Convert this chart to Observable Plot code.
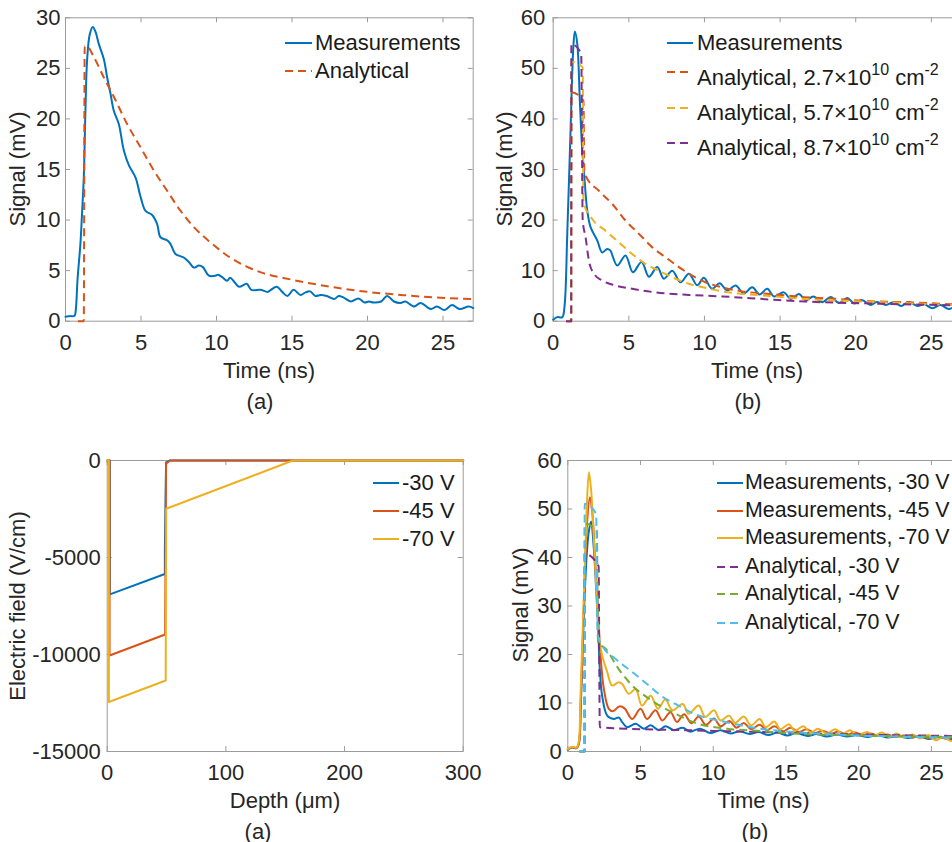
<!DOCTYPE html>
<html><head><meta charset="utf-8">
<script src="https://cdn.jsdelivr.net/npm/d3@7"></script>
<script src="https://cdn.jsdelivr.net/npm/@observablehq/plot@0.6"></script>
<style>
html,body{margin:0;padding:0;background:#fff;overflow:hidden}
#fig{position:relative;width:952px;height:842px;overflow:hidden;font-family:"Liberation Sans",Arial,Helvetica,sans-serif;color:#262626;background:#fff}
.lbl{position:absolute;font-size:22px;line-height:1;white-space:nowrap;transform:translate(-50%,-50%)}
.ylbl{transform:translate(-50%,-50%) rotate(-90deg)}
.leg{position:absolute;font-size:22px;line-height:1;white-space:nowrap;transform:translateY(-50%);color:#1a1a1a}
.leg.small{font-size:21.4px}
.leg sup{font-size:16px;vertical-align:baseline;position:relative;top:-10px;line-height:0}
</style></head><body><div id="fig"></div><script>
// ---------- colours ----------
const BLUE = "#0072BD", ORANGE = "#D95319", YELLOW = "#EDB120", PURPLE = "#7E2F8E", GREEN = "#77AC30", CYAN = "#4DBEEE";

// ---------- ticks ----------
const timeTicks = [0, 5, 10, 15, 20, 25];
const sig30Ticks = [0, 5, 10, 15, 20, 25, 30];
const sig60Ticks = [0, 10, 20, 30, 40, 50, 60];
const depthTicks = [0, 100, 200, 300];
const fieldTicks = [-15000, -10000, -5000, 0];

// ---------- panel 1 (top-left): [time ns, signal mV] ----------
const p1Measured = [[0,0.45],[0.3,0.5],[0.6,0.55],[0.68,1.1],[0.8,4.2],[0.99,7.7],[1.1,10.8],[1.21,14.2],[1.32,20.8],[1.43,25.8],[1.61,28.4],[1.81,29.1],[1.99,28.6],[2.21,27.4],[2.54,25.9],[2.76,24.1],[2.98,22.5],[3.2,20.8],[3.53,19.5],[3.86,16.9],[4.2,15.4],[4.64,14.2],[4.97,12.3],[5.3,10.9],[5.74,10.5],[6.07,9.6],[6.29,8.3],[6.73,8.0],[6.95,7.65],[7.28,6.65],[7.83,6.3],[8.17,5.85],[8.5,5.3],[8.83,5.5],[9.1,5.35],[9.49,4.5],[9.93,4.5],[10.1,4.6],[10.38,4.35],[10.7,4.0],[10.9,4.3],[11.2,3.85],[11.5,3.4],[12.0,3.7],[12.3,3.1],[12.9,3.1],[13.4,2.9],[13.6,3.1],[14.0,3.4],[14.35,2.9],[14.7,2.5],[15.1,3.1],[15.56,2.6],[15.9,2.85],[16.2,2.95],[16.55,2.5],[16.9,2.6],[17.3,2.5],[17.8,2.2],[18.1,2.5],[18.4,2.35],[18.9,1.95],[19.4,2.25],[19.8,1.85],[20.1,1.95],[20.4,1.85],[20.9,1.95],[21.3,2.5],[21.75,1.95],[22.2,1.8],[22.5,1.95],[23.1,1.45],[23.5,1.8],[24.2,1.2],[24.6,1.45],[25.1,1.1],[25.6,1.6],[26.1,1.2],[26.7,1.45],[27,1.3]];
const p1Analytical = [[0.82,0],[1.21,0],[1.27,27.2],[1.4,27.2],[1.88,26.1],[2.54,24.1],[3.2,22.2],[4.08,19.5],[4.97,17.2],[5.85,14.9],[6.73,12.9],[7.6,10.95],[8.5,9.3],[9.6,7.8],[10.7,6.5],[12.0,5.4],[13.0,4.8],[15.0,4.1],[17.8,3.35],[20.0,2.9],[22.2,2.6],[24.4,2.35],[27,2.2]];

// ---------- panel 2 (top-right) ----------
const p2Measured = [[0,0.3],[0.26,0.8],[0.6,0.8],[0.75,3],[0.93,17.3],[1.14,37],[1.32,53.5],[1.43,57.3],[1.59,54.9],[1.76,43.6],[1.92,33.8],[2.03,29.8],[2.25,21.9],[2.47,18.6],[2.91,16.0],[3.24,13.6],[3.57,14.3],[3.77,14.0],[4.23,11.0],[4.78,13.0],[5.27,9.7],[5.84,11.7],[6.33,8.8],[6.88,10.7],[7.32,8.4],[7.87,10.0],[8.42,7.7],[8.97,9.4],[9.52,7.1],[9.96,8.6],[10.5,6.4],[11.0,7.5],[11.5,6.1],[12.06,7.06],[12.6,5.5],[13.16,6.7],[13.64,5.3],[14.15,6.4],[14.6,4.9],[15.25,5.7],[15.7,4.4],[16.25,5.4],[16.7,4.1],[17.2,4.9],[17.8,3.75],[18.34,4.8],[18.9,3.6],[19.44,4.6],[19.9,3.5],[20.4,4.2],[20.99,3.2],[21.4,3.8],[22.0,3.2],[22.53,3.8],[23.0,3.0],[23.5,3.8],[24.1,3.0],[24.5,3.4],[25.07,2.56],[25.6,3.2],[26.15,2.4],[26.6,2.9],[27,2.5]];
const p2Analytical27 = [[0.85,0],[1.19,0],[1.2,45.3],[2.0,43.6],[2.06,29.6],[2.14,28.8],[3.02,25.8],[3.9,23.2],[4.78,19.9],[5.66,17.3],[6.55,14.6],[7.43,12.65],[8.31,10.7],[9.19,9.0],[10.07,7.7],[11.18,6.7],[12.5,5.9],[14.3,5.4],[16.6,4.75],[18.8,4.4],[21,3.95],[23.2,3.76],[27,3.25]];
const p2Analytical57 = [[0.85,0],[1.19,0],[1.2,51.3],[1.95,50.2],[2.0,23.5],[2.58,20.2],[3.46,17.9],[4.34,15.6],[5.22,13.3],[6.1,11.35],[6.98,10.0],[7.87,8.7],[8.97,7.4],[10.07,6.6],[11.18,5.9],[12.5,5.4],[14.3,5.0],[16.6,4.4],[18.8,4.1],[21,3.85],[23.2,3.6],[27,3.1]];
const p2Analytical87 = [[0.85,0],[1.19,0],[1.2,54.8],[1.85,53.0],[1.95,20],[2.14,16.6],[2.36,12.0],[2.69,9.4],[3.24,8.05],[4.12,7.06],[5.22,6.4],[6.77,5.7],[8.97,5.2],[11.18,4.9],[14.3,4.3],[16.6,3.9],[18.8,3.65],[21,3.5],[23.2,3.35],[27,3.1]];

// ---------- panel 3 (bottom-left): [depth um, field V/cm] ----------
const field30 = [[0,0],[2.2,0],[2.2,-6900],[48.6,-5850],[48.6,-4550],[49.6,-100],[53,0],[300,0]];
const field45 = [[0,0],[2.0,0],[2.0,-10050],[48.8,-8970],[49.6,-170],[53,0],[300,0]];
const field70 = [[0,0],[1.4,0],[1.4,-12450],[49.3,-11340],[49.7,-2490],[156.5,0],[300,0]];

// ---------- panel 4 (bottom-right) ----------
const meas30 = [[0,0.4],[0.3,0.8],[0.6,0.7],[0.75,1.5],[0.9,10],[1.1,28],[1.3,40.5],[1.45,45.5],[1.6,47.4],[1.79,41.8],[1.95,33.5],[2.09,25.3],[2.2,17.0],[2.36,11.5],[2.71,7.4],[3.16,6.7],[3.5,7.0],[3.74,6.05],[4.08,5.0],[4.66,5.7],[5.23,4.7],[5.7,5.4],[6.25,4.4],[6.72,5.2],[7.3,4.4],[7.9,4.9],[8.4,4.1],[9.1,4.7],[9.8,3.8],[10.5,4.4],[11.2,3.7],[11.8,4.2],[12.5,3.6],[13.1,4.0],[13.8,3.4],[14.4,3.9],[15.1,3.3],[15.7,3.8],[16.5,3.2],[17.1,3.6],[17.8,3.1],[18.5,3.5],[19.2,3.1],[19.9,3.4],[20.6,3.0],[21.3,3.4],[22.0,2.9],[22.7,3.2],[23.4,2.8],[24.1,3.1],[24.8,2.6],[25.5,3.0],[26.2,2.6],[27,2.8]];
const meas45 = [[0,0.45],[0.3,0.9],[0.6,0.7],[0.75,1.5],[0.9,11],[1.1,30],[1.3,46],[1.52,52.4],[1.68,49.5],[1.86,40.4],[2.02,32.2],[2.13,25.3],[2.25,19.8],[2.48,12.9],[2.82,8.8],[3.1,8.3],[3.55,9.3],[3.9,8.9],[4.43,6.7],[5.0,8.8],[5.45,6.7],[6.03,8.5],[6.5,6.4],[7.06,8.1],[7.5,6.1],[8.0,7.7],[8.5,5.8],[9.0,7.2],[9.5,5.5],[10.05,6.8],[10.5,5.2],[11.1,6.3],[11.6,4.9],[12.1,5.9],[12.6,4.6],[13.2,5.5],[13.7,4.4],[14.2,5.2],[14.8,4.2],[15.3,4.9],[15.9,4.0],[16.4,4.6],[17.0,3.8],[17.5,4.3],[18.1,3.7],[18.6,4.1],[19.2,3.5],[19.7,3.9],[20.3,3.4],[20.8,3.7],[21.4,3.2],[22.0,3.5],[22.5,3.0],[23.1,3.3],[23.7,2.9],[24.2,3.2],[24.8,2.8],[25.4,3.0],[26.0,2.7],[26.5,2.9],[27,2.6]];
const meas70 = [[0,0.5],[0.3,1.0],[0.6,0.8],[0.75,2],[0.87,11.2],[1.1,31.8],[1.29,49],[1.45,57.6],[1.6,54],[1.72,48],[1.86,40],[2.02,30.1],[2.2,22.5],[2.36,19.8],[2.71,16.4],[3.05,13.6],[3.5,14.3],[3.74,13.9],[4.2,11.9],[4.66,12.9],[5.1,9.5],[5.7,11.5],[6.2,8.8],[6.7,10.7],[7.2,8.5],[7.9,9.8],[8.3,7.8],[9.0,9.5],[9.45,7.1],[10.05,8.5],[10.5,6.4],[11.1,7.4],[11.5,5.9],[12.1,7.2],[12.6,5.4],[13.2,6.7],[13.6,5.0],[14.2,6.2],[14.6,4.6],[15.2,5.6],[15.6,4.3],[16.2,5.2],[16.7,3.9],[17.2,4.7],[17.8,3.7],[18.4,4.6],[18.9,3.6],[19.4,4.4],[19.9,3.4],[20.6,4.0],[21.0,3.2],[21.6,3.9],[22.1,3.0],[22.6,3.7],[23.1,2.9],[23.7,3.5],[24.2,2.7],[24.8,3.4],[25.3,2.3],[25.8,3.0],[26.3,2.2],[27,2.6]];
const anal30 = [[0.8,0],[1.15,0],[1.16,40.8],[2.12,38.2],[2.2,5.0],[4,4.7],[8,4.4],[12,4.1],[16,3.8],[20,3.5],[27,3.2]];
const anal45 = [[0.8,0],[1.15,0],[1.16,47],[2.0,45.5],[2.08,22.5],[2.6,21.2],[3.5,17.0],[4.43,13.6],[5.57,10.9],[6.72,8.8],[7.4,7.8],[8.67,6.0],[10.96,4.7],[13.25,4.2],[15.5,3.7],[20,3.3],[27,3.0]];
const anal70 = [[0.8,0],[1.15,0],[1.16,51.1],[1.95,49],[2.05,24],[2.36,21.9],[3.28,19.1],[4.43,16.4],[5.57,13.6],[6.5,11.3],[7.4,9.8],[8.67,7.8],[10.96,6.0],[13.25,4.7],[15.5,4.0],[17.8,3.6],[20.1,3.3],[22.4,3.1],[27,2.8]];

// ---------- drawing ----------
const FONT = '"Liberation Sans", Arial, Helvetica, sans-serif';
const fig = document.getElementById("fig");
const GRAY = "#9c9c9c";

function panel(c) {
  const fw = c.width - c.mL - c.mR, fh = c.height - c.mT - c.mB, tk = 5;
  const marks = [
    Plot.gridX(c.xTicks, {stroke: GRAY, strokeOpacity: 1, insetTop: fh - tk}),
    Plot.gridX(c.xTicks, {stroke: GRAY, strokeOpacity: 1, insetBottom: fh - tk}),
    Plot.gridY(c.yTicks, {stroke: GRAY, strokeOpacity: 1, insetRight: fw - tk}),
    Plot.gridY(c.yTicks, {stroke: GRAY, strokeOpacity: 1, insetLeft: fw - tk}),
    Plot.frame({stroke: GRAY}),
    Plot.axisX(c.xTicks, {tickSize: 0, tickPadding: 13, tickFormat: d => String(d), label: null}),
    Plot.axisY(c.yTicks, {tickSize: 0, tickPadding: c.yPad, tickFormat: d => String(d), label: null})
  ];
  for (const s of c.series) {
    marks.push(Plot.line(s.data, {
      x: d => d[0], y: d => d[1], stroke: s.color, strokeWidth: s.w || 2,
      strokeDasharray: s.dash ? "8,5" : undefined,
      strokeLinecap: s.dash ? "butt" : "round",
      curve: s.curve || "linear"
    }));
  }
  const svg = Plot.plot({
    width: c.width, height: c.height,
    marginLeft: c.mL, marginRight: c.mR, marginTop: c.mT, marginBottom: c.mB,
    x: {domain: c.xDomain}, y: {domain: c.yDomain},
    style: {fontFamily: FONT, fontSize: "22px", color: "#262626", background: "none", overflow: "visible"},
    marks
  });
  svg.style.position = "absolute";
  svg.style.left = c.left + "px";
  svg.style.top = c.top + "px";
  fig.appendChild(svg);
}

function text(str, x, y, rot) {
  const d = document.createElement("div");
  d.className = "lbl" + (rot ? " ylbl" : "");
  d.style.left = x + "px"; d.style.top = y + "px";
  d.innerHTML = str;
  fig.appendChild(d);
}

function legend(items, x1, x2, tx, ys, sampleYs, cls) {
  items.forEach((it, i) => {
    const sy = sampleYs ? sampleYs[i] : ys[i];
    const ns = "http://www.w3.org/2000/svg";
    const s = document.createElementNS(ns, "svg");
    s.setAttribute("width", x2 - x1); s.setAttribute("height", 6);
    s.style.position = "absolute"; s.style.left = x1 + "px"; s.style.top = (sy - 3) + "px";
    const l = document.createElementNS(ns, "line");
    l.setAttribute("x1", 0); l.setAttribute("x2", x2 - x1); l.setAttribute("y1", 3); l.setAttribute("y2", 3);
    l.setAttribute("stroke", it.color); l.setAttribute("stroke-width", 2);
    if (it.dash) l.setAttribute("stroke-dasharray", "8,5");
    s.appendChild(l);
    fig.appendChild(s);
    const d = document.createElement("div");
    d.className = "leg" + (cls ? " " + cls : "");
    d.style.left = tx + "px"; d.style.top = ys[i] + "px";
    d.innerHTML = it.label;
    fig.appendChild(d);
  });
}

// Panel 1
panel({left: 0, top: 0, width: 480, height: 361, mL: 65, mR: 7.3, mT: 17.3, mB: 40.3,
  xDomain: [0, 27], xTicks: timeTicks, yDomain: [0, 30], yTicks: sig30Ticks, yPad: 5,
  series: [
    {data: p1Measured, color: BLUE, curve: "catmull-rom"},
    {data: p1Analytical, color: ORANGE, dash: true, curve: "monotone-x"}
  ]});
text("Time (ns)", 269, 370.5);
text("(a)", 260, 401.5);
text("Signal (mV)", 18, 168.5, true);
legend([
  {label: "Measurements", color: BLUE},
  {label: "Analytical", color: ORANGE, dash: true}
], 285, 312, 315, [43.3, 71]);

// Panel 2
panel({left: 480, top: 0, width: 491, height: 361, mL: 72.7, mR: 9.9, mT: 17.3, mB: 40.3,
  xDomain: [0, 27], xTicks: timeTicks, yDomain: [0, 60], yTicks: sig60Ticks, yPad: 8,
  series: [
    {data: p2Measured, color: BLUE, curve: "catmull-rom"},
    {data: p2Analytical27, color: ORANGE, dash: true, curve: "monotone-x"},
    {data: p2Analytical57, color: YELLOW, dash: true, curve: "monotone-x"},
    {data: p2Analytical87, color: PURPLE, dash: true, curve: "monotone-x"}
  ]});
text("Time (ns)", 757, 370.5);
text("(b)", 748, 401.5);
text("Signal (mV)", 504.5, 168.5, true);
legend([
  {label: "Measurements", color: BLUE},
  {label: "Analytical, 2.7×10<sup>10</sup> cm<sup>-2</sup>", color: ORANGE, dash: true},
  {label: "Analytical, 5.7×10<sup>10</sup> cm<sup>-2</sup>", color: YELLOW, dash: true},
  {label: "Analytical, 8.7×10<sup>10</sup> cm<sup>-2</sup>", color: PURPLE, dash: true}
], 666.7, 693.3, 697, [43.3, 78, 113, 148], [43.3, 72, 107.5, 143]);

// Panel 3
panel({left: 0, top: 430, width: 480, height: 361, mL: 106.7, mR: 17.3, mT: 30, mB: 40,
  xDomain: [0, 300], xTicks: depthTicks, yDomain: [-15000, 0], yTicks: fieldTicks, yPad: 6.5,
  series: [
    {data: field30, color: BLUE},
    {data: field45, color: ORANGE},
    {data: field70, color: YELLOW}
  ]});
text("Depth (μm)", 285, 800.8);
text("(a)", 258, 831.5);
text("Electric field (V/cm)", 18, 605.5, true);
legend([
  {label: "-30 V", color: BLUE},
  {label: "-45 V", color: ORANGE},
  {label: "-70 V", color: YELLOW}
], 373, 399, 402, [483.3, 510.7, 538.5]);

// Panel 4
panel({left: 480, top: 430, width: 490, height: 361, mL: 87.3, mR: 10, mT: 30, mB: 40,
  xDomain: [0, 27], xTicks: timeTicks, yDomain: [0, 60], yTicks: sig60Ticks, yPad: 6,
  series: [
    {data: meas30, color: BLUE, curve: "catmull-rom"},
    {data: meas45, color: ORANGE, curve: "catmull-rom"},
    {data: meas70, color: YELLOW, curve: "catmull-rom"},
    {data: anal30, color: PURPLE, dash: true, curve: "monotone-x"},
    {data: anal45, color: GREEN, dash: true, curve: "monotone-x"},
    {data: anal70, color: CYAN, dash: true, curve: "monotone-x"}
  ]});
text("Time (ns)", 763.5, 800.8);
text("(b)", 755, 831.5);
text("Signal (mV)", 521, 604.5, true);
legend([
  {label: "Measurements, -30 V", color: BLUE},
  {label: "Measurements, -45 V", color: ORANGE},
  {label: "Measurements, -70 V", color: YELLOW},
  {label: "Analytical, -30 V", color: PURPLE, dash: true},
  {label: "Analytical, -45 V", color: GREEN, dash: true},
  {label: "Analytical, -70 V", color: CYAN, dash: true}
], 716.7, 743.3, 745, [483.3, 510.7, 538.3, 566.7, 594.3, 622.7], null, "small");
</script></body></html>
